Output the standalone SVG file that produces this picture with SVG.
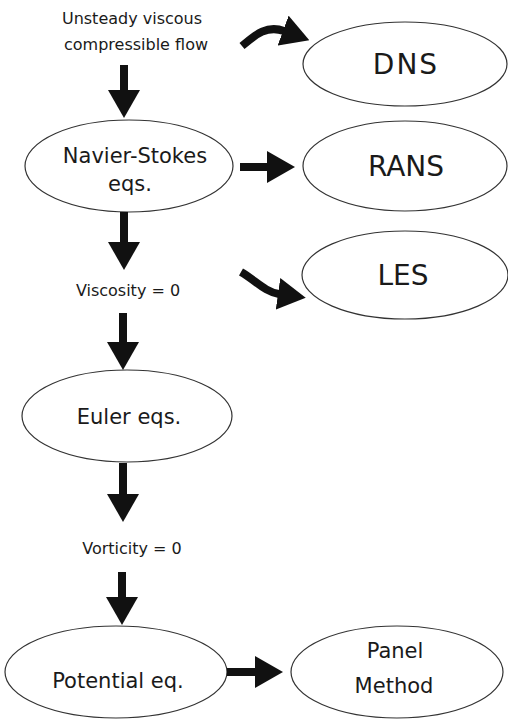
<svg xmlns="http://www.w3.org/2000/svg" width="508" height="720" viewBox="0 0 508 720">
<style>
.node ellipse{fill:#fff;stroke:#333;stroke-width:1.2}
.lbl{font-family:"DejaVu Sans","Noto Sans",sans-serif;fill:#1a1a1a;text-anchor:middle}
.big{font-size:28px}
.mid{font-size:21px}
.sm{font-size:16px}
.conn path{fill:none;stroke:#111;stroke-width:8}
</style>
<defs>
<marker id="ah" viewBox="0 0 28 32" refX="1" refY="16" markerWidth="28" markerHeight="32" markerUnits="userSpaceOnUse" orient="auto">
<path d="M0,0 L28,16 L0,32 z" fill="#111"/>
</marker>
</defs>
<rect width="508" height="720" fill="#fff"/>
<g id="start">
<text class="lbl sm" x="132" y="24">Unsteady viscous</text>
<text class="lbl sm" x="136" y="50">compressible flow</text>
</g>
<g id="dns" class="node">
<ellipse cx="405" cy="64" rx="102" ry="42"/>
<text class="lbl big" x="406" y="74" letter-spacing="2">DNS</text>
</g>
<g id="navier" class="node">
<ellipse cx="129" cy="166" rx="104" ry="46"/>
<text class="lbl mid" x="135" y="163" font-size="23">Navier-Stokes</text>
<text class="lbl mid" x="130" y="191" font-size="23">eqs.</text>
</g>
<g id="rans" class="node">
<ellipse cx="405" cy="166" rx="102" ry="45"/>
<text class="lbl big" x="406" y="176">RANS</text>
</g>
<g id="les" class="node">
<ellipse cx="405" cy="275" rx="103" ry="44"/>
<text class="lbl big" x="403" y="285">LES</text>
</g>
<g id="visc">
<text class="lbl sm" x="128" y="296">Viscosity = 0</text>
</g>
<g id="euler" class="node">
<ellipse cx="127" cy="416" rx="105" ry="46"/>
<text class="lbl mid" x="129" y="424">Euler eqs.</text>
</g>
<g id="vort">
<text class="lbl sm" x="132" y="554">Vorticity = 0</text>
</g>
<g id="potential" class="node">
<ellipse cx="116" cy="672" rx="111" ry="46"/>
<text class="lbl mid" x="118" y="688" font-size="20">Potential eq.</text>
</g>
<g id="panel" class="node">
<ellipse cx="397" cy="672" rx="106" ry="46"/>
<text class="lbl mid" x="395" y="658">Panel</text>
<text class="lbl mid" x="394" y="693">Method</text>
</g>
<g id="connectors" class="conn">
<path d="M124,65 L124,91" marker-end="url(#ah)"/>
<path d="M124,212 L124,243" marker-end="url(#ah)"/>
<path d="M123,313 L123,343" marker-end="url(#ah)"/>
<path d="M123,463 L123,495" marker-end="url(#ah)"/>
<path d="M122,572 L122,598" marker-end="url(#ah)"/>
<path d="M240,167 L268,167" marker-end="url(#ah)"/>
<path d="M227,672 L256,672" marker-end="url(#ah)"/>
<path d="M242,46 C252,38 265,24 284,31" marker-end="url(#ah)"/>
<path d="M241,272 C255,280 265,292 279,294" marker-end="url(#ah)"/>
</g>
</svg>
